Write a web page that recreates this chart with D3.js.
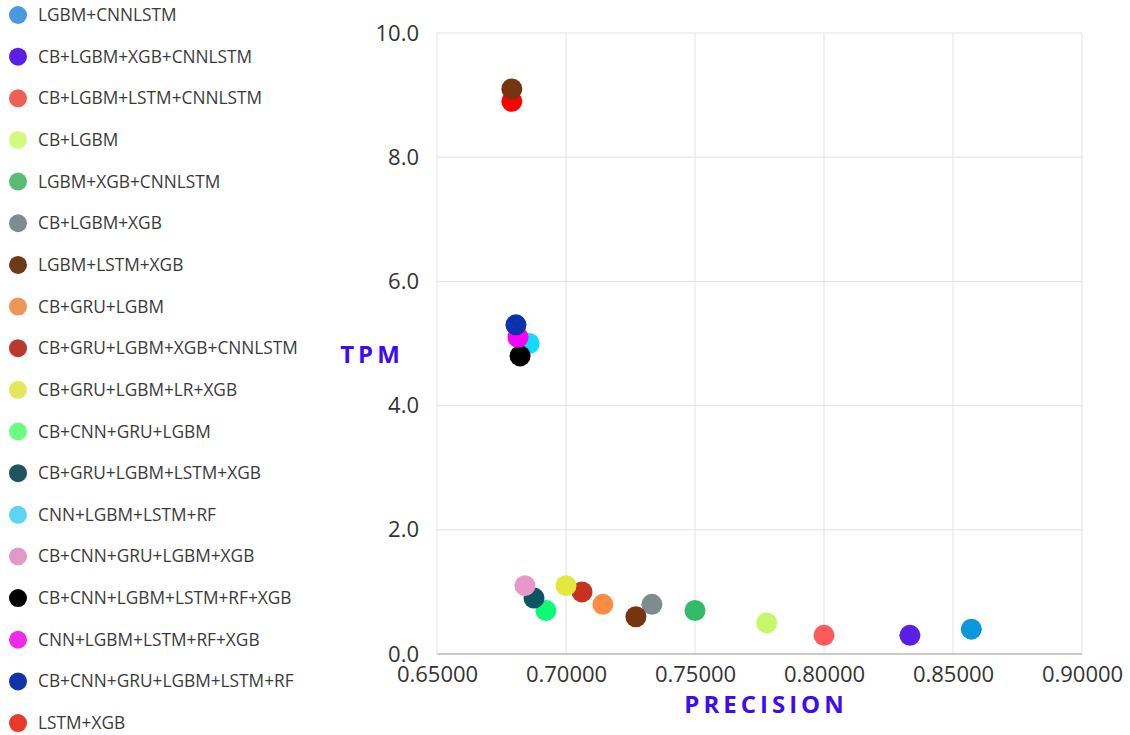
<!DOCTYPE html>
<html lang="en">
<head>
<meta charset="utf-8">
<title>TPM vs Precision</title>
<script src="https://d3js.org/d3.v7.min.js"></script>
<style>
  body { margin: 0; background: #fff; font-family: "Open Sans", sans-serif; }
  .grid line { stroke: #e3e3e3; stroke-width: 1px; }
  .axis text { font-family: "Open Sans", sans-serif; font-size: 22px; fill: #333; }
  .axis path, .axis line { stroke: none; }
  .legend text { font-family: "Open Sans", sans-serif; font-size: 17.3px; fill: #3a3a3a; }
  .title { font-family: "Open Sans", sans-serif; font-weight: 700; fill: #3d0cf5; }
</style>
</head>
<body>
<script>
// series (legend order)
const models = [
  "LGBM+CNNLSTM", "CB+LGBM+XGB+CNNLSTM", "CB+LGBM+LSTM+CNNLSTM", "CB+LGBM",
  "LGBM+XGB+CNNLSTM", "CB+LGBM+XGB", "LGBM+LSTM+XGB", "CB+GRU+LGBM",
  "CB+GRU+LGBM+XGB+CNNLSTM", "CB+GRU+LGBM+LR+XGB", "CB+CNN+GRU+LGBM",
  "CB+GRU+LGBM+LSTM+XGB", "CNN+LGBM+LSTM+RF", "CB+CNN+GRU+LGBM+XGB",
  "CB+CNN+LGBM+LSTM+RF+XGB", "CNN+LGBM+LSTM+RF+XGB", "CB+CNN+GRU+LGBM+LSTM+RF", "LSTM+XGB"
];
const colors = [
  "#0a97dc", "#5b1ee6", "#ff5a5a", "#c5f76b", "#33bb6a", "#7f8c8d", "#76350f", "#ff8c45",
  "#c9301f", "#e3e83e", "#0dfa74", "#0b5563", "#11dcff", "#e898c8",
  "#000000", "#fb00f6", "#0833aa", "#ff0000"
];
const legendColors = [
  "#4a98e0", "#5b1ee6", "#ee6055", "#d2fb7e", "#5cbb72", "#7f8c8d", "#6e3a16", "#f0955a",
  "#b83a2c", "#e3e85a", "#6aff80", "#205560", "#5ad5f2", "#e09ac6",
  "#000000", "#ee2ae8", "#1232a8", "#e83a2a"
];

// points: model index, precision, tpm (drawing order)
const pointModel = [0, 1, 2, 3, 4, 5, 6, 7, 8, 9, 10, 11, 12, 13, 14, 15, 16, 17, 6];
const precision  = [0.8571, 0.8333, 0.8000, 0.7778, 0.7500, 0.7333, 0.7271, 0.7143,
                    0.7062, 0.7000, 0.6922, 0.6876, 0.6857, 0.6841, 0.6822, 0.6814,
                    0.6806, 0.6790, 0.6790];
const tpm        = [0.4, 0.3, 0.3, 0.5, 0.7, 0.8, 0.6, 0.8,
                    1.0, 1.1, 0.7, 0.9, 5.0, 1.1, 4.8, 5.1,
                    5.3, 8.9, 9.1];

const xTicks = [0.65, 0.70, 0.75, 0.80, 0.85, 0.90];
const yTicks = [0, 2, 4, 6, 8, 10];

const W = 1130, H = 735;
const plotLeft = 437, plotRight = 1082, plotTop = 33, plotBottom = 654;

const svg = d3.select("body").append("svg").attr("width", W).attr("height", H);

const x = d3.scaleLinear().domain([0.65, 0.90]).range([plotLeft, plotRight]);
const y = d3.scaleLinear().domain([0, 10]).range([plotBottom, plotTop]);

// grid
const grid = svg.append("g").attr("class", "grid");
grid.selectAll(".vx").data(xTicks).join("line")
  .attr("x1", d => x(d)).attr("x2", d => x(d))
  .attr("y1", plotTop).attr("y2", plotBottom);
grid.selectAll(".hy").data(yTicks).join("line")
  .attr("x1", plotLeft).attr("x2", plotRight)
  .attr("y1", d => y(d)).attr("y2", d => y(d));

svg.append("line")
  .attr("x1", plotLeft).attr("x2", plotRight).attr("y1", plotBottom).attr("y2", plotBottom)
  .attr("stroke", "#bdbdbd").attr("stroke-width", 1.5);

// axes
svg.append("g").attr("class", "axis")
  .attr("transform", `translate(0,${plotBottom})`)
  .call(d3.axisBottom(x).tickValues(xTicks).tickFormat(d3.format(".5f")).tickSize(0).tickPadding(12));

svg.append("g").attr("class", "axis")
  .attr("transform", `translate(${plotLeft},0)`)
  .call(d3.axisLeft(y).tickValues(yTicks).tickFormat(d3.format(".1f")).tickSize(0).tickPadding(18));

svg.append("text").attr("class", "title")
  .attr("x", 372).attr("y", 363).attr("text-anchor", "middle")
  .attr("font-size", 24).attr("letter-spacing", 4)
  .text("TPM");

svg.append("text").attr("class", "title")
  .attr("x", 766).attr("y", 713).attr("text-anchor", "middle")
  .attr("font-size", 24).attr("letter-spacing", 4)
  .text("PRECISION");

// points
svg.append("g").selectAll("circle")
  .data(d3.range(precision.length))
  .join("circle")
  .attr("cx", i => x(precision[i]))
  .attr("cy", i => y(tpm[i]))
  .attr("r", 10.5)
  .attr("fill", i => colors[pointModel[i]]);

// legend
const leg = svg.append("g").attr("class", "legend")
  .selectAll("g").data(models).join("g")
  .attr("transform", (d, i) => `translate(0,${15 + i * 41.65})`);
leg.append("circle").attr("cx", 18).attr("cy", 0).attr("r", 9)
  .attr("fill", (d, i) => legendColors[i]);
leg.append("text").attr("x", 38).attr("y", 6).text(d => d);
</script>
</body>
</html>
